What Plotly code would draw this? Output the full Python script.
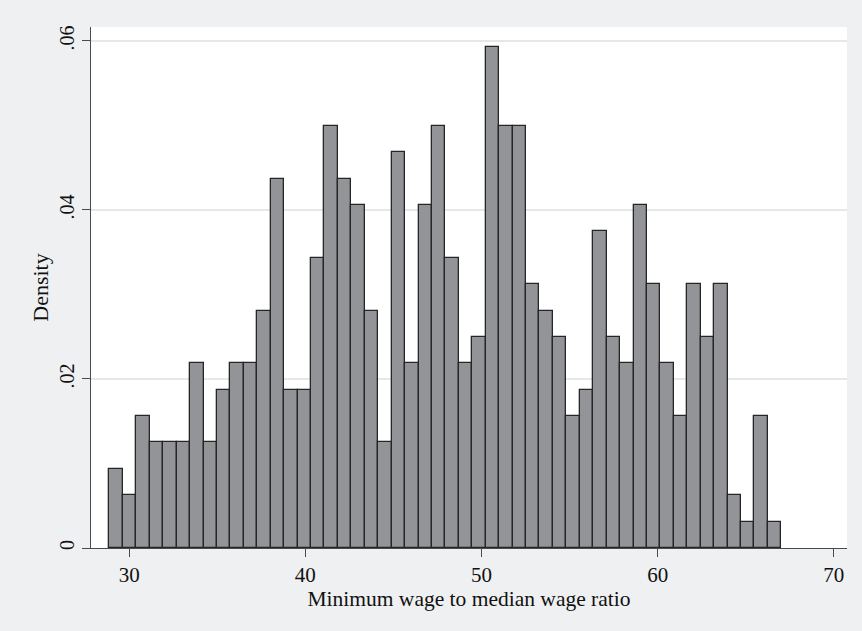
import plotly.graph_objects as go

# Histogram of the minimum-to-median wage ratio (Stata-style density histogram)
bin_start = 28.88          # left edge of the first bin
bin_width = 0.7628         # width of each bin
counts = [3, 2, 5, 4, 4, 4, 7, 4, 6, 7,
          7, 9, 14, 6, 6, 11, 16, 14, 13, 9,
          4, 15, 7, 13, 16, 11, 7, 8, 19, 16,
          16, 10, 9, 8, 5, 6, 12, 8, 7, 13,
          10, 7, 5, 10, 8, 10, 2, 1, 5, 1]

x_tick_vals = [30, 40, 50, 60, 70]
y_tick_vals = [0, 0.02, 0.04, 0.06]
y_tick_text = ["0", ".02", ".04", ".06"]

n_obs = sum(counts)
centers = [bin_start + (i + 0.5) * bin_width for i in range(len(counts))]
density = [c / (n_obs * bin_width) for c in counts]

FONT = "Liberation Serif"
AXIS_COLOR = "#4a4a4a"

fig = go.Figure(
    go.Bar(
        x=centers,
        y=density,
        width=bin_width,
        marker=dict(color="#939498", line=dict(color="#262626", width=1.3)),
        hoverinfo="skip",
    )
)

fig.update_layout(
    width=862,
    height=631,
    margin=dict(l=91, r=15, t=27, b=83),
    paper_bgcolor="#eff0f2",
    plot_bgcolor="#ffffff",
    showlegend=False,
    bargap=0,
    font=dict(family=FONT, color="#111111", size=20),
)

fig.update_xaxes(
    range=[27.83, 70.75],
    tickvals=x_tick_vals,
    ticks="outside",
    ticklen=8,
    tickwidth=1.3,
    tickcolor=AXIS_COLOR,
    showline=True,
    linecolor=AXIS_COLOR,
    linewidth=1.3,
    showgrid=False,
    zeroline=False,
    tickfont=dict(family=FONT, size=21),
    title=dict(text="Minimum wage to median wage ratio",
               font=dict(family=FONT, size=21.5), standoff=3),
)

fig.update_yaxes(
    range=[0, 0.06165],
    tickvals=y_tick_vals,
    ticktext=y_tick_text,
    tickangle=-90,
    ticks="outside",
    ticklen=8,
    tickwidth=1.3,
    tickcolor=AXIS_COLOR,
    showline=True,
    linecolor=AXIS_COLOR,
    linewidth=1.3,
    showgrid=True,
    gridcolor="#e6e7e8",
    gridwidth=1.5,
    zeroline=False,
    tickfont=dict(family=FONT, size=20),
    title=dict(text="Density", font=dict(family=FONT, size=22), standoff=1),
)

fig.write_html("out.html")
